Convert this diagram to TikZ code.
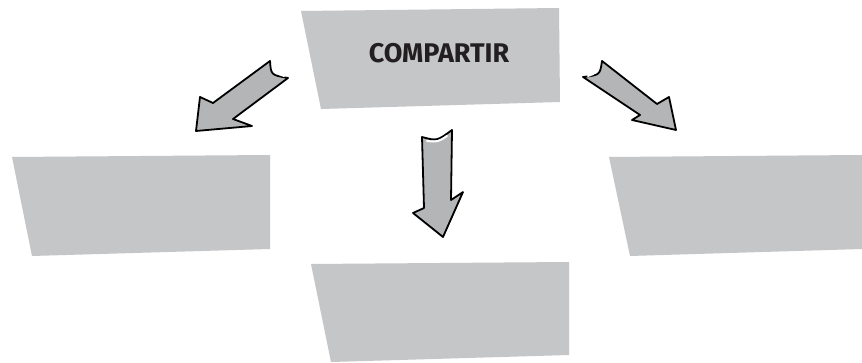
\documentclass[tikz,border=0pt]{standalone}
\usepackage{fontspec}
\setmainfont{Fira Sans}
\definecolor{boxgray}{HTML}{C5C6C8}
\definecolor{arrgray}{HTML}{B4B5B7}
\definecolor{txt}{HTML}{231F20}
\tikzset{
  box/.style={fill=boxgray, draw=none},
  blockarrow/.style={fill=arrgray, draw=black, line width=1.8pt, line join=round},
  shine/.style={white, line width=2pt, line cap=round},
  title/.style={font=\fontsize{27}{32}\selectfont\bfseries, text=txt, inner sep=0pt}
}
\begin{document}
\begin{tikzpicture}[x=1pt,y=-1pt]
\path[use as bounding box, fill=white] (0,0) rectangle (862,363);
% boxes
\path[box] (301,11) -- (559,8) -- (560,102) -- (321,109) -- cycle;
\path[box] (12,157) -- (270,155) -- (270,249) -- (32,256) -- cycle;
\path[box] (609,157) -- (862,155) -- (862,249) -- (630,256) -- cycle;
\path[box] (311,264) -- (569,262) -- (569,355) -- (331,362) -- cycle;
\node[title] (top) at (439,53) {COMPARTIR};
\coordinate (left) at (141,205);
\coordinate (right) at (736,205);
\coordinate (bottom) at (440,312);
% left arrow
\path[blockarrow] (270,61) .. controls (271,75) .. (288,78)
  -- (233,119) -- (252,126) -- (196,131) -- (200,97) -- (213,103) -- cycle;
\draw[shine] (274,65) .. controls (276,73) .. (284,76);
% right arrow
\path[blockarrow] (602,61) -- (657,104) -- (669,97) -- (676,130)
  -- (632,120) -- (640,115) -- (583,77) .. controls (600,75) .. cycle;
\draw[shine] (598,65) .. controls (596,73) .. (588,76);
% down arrow
\path[blockarrow] (422,137) .. controls (437,141) .. (452,130)
  -- (451,200) -- (463,192) -- (443,237) -- (413,213) -- (424,208) -- cycle;
\draw[shine] (427,141) .. controls (438,142) .. (447,136);
\end{tikzpicture}
\end{document}
